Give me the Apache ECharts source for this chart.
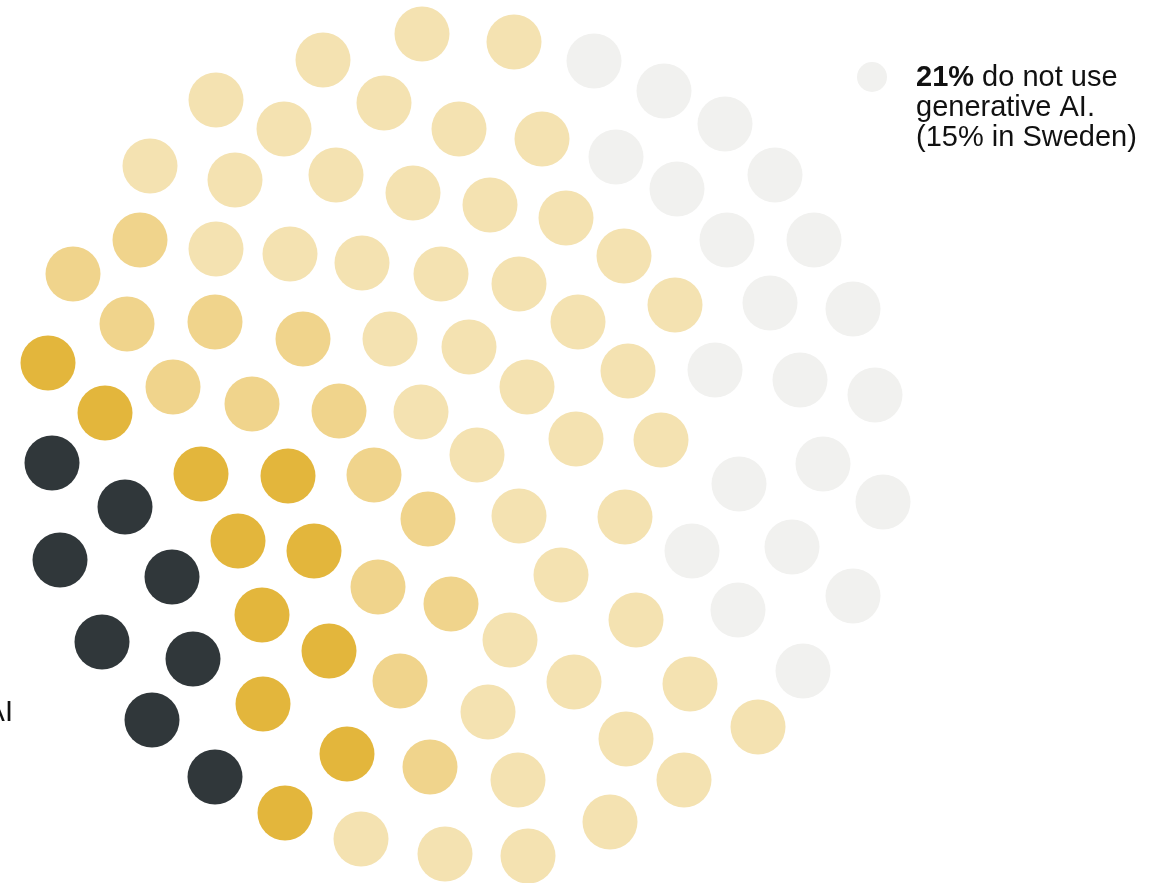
<!DOCTYPE html>
<html>
<head>
<meta charset="utf-8">
<title>Generative AI use</title>
<script src="https://cdn.jsdelivr.net/npm/echarts@6/dist/echarts.min.js"></script>
<style>
  html, body { margin: 0; padding: 0; background: #ffffff; }
  #chart { width: 1150px; height: 883px; }
</style>
</head>
<body>
<div id="chart"></div>
<script>
// Packed dot layout: one dot per percent of respondents.
// Positions are layout units around the cluster centre (x right, y up).
const groupNames = ['Daily', 'Weekly', 'Monthly', 'Less often', 'Do not use'];

const dotsDaily = [
  [-418, -13], [-345, -57], [-410, -110], [-298, -127], [-368, -192],
  [-277, -209], [-318, -270], [-255, -327]
];

const dotsWeekly = [
  [-422, 87], [-365, 37], [-269, -24], [-182, -26], [-232, -91], [-156, -101],
  [-208, -165], [-141, -201], [-207, -254], [-123, -304], [-185, -363]
];

const dotsMonthly = [
  [-330, 210], [-397, 176], [-343, 126], [-255, 128], [-167, 111], [-297, 63],
  [-218, 46], [-131, 39], [-96, -25], [-42, -69], [-92, -137], [-19, -154],
  [-70, -231], [-40, -317]
];

const dotsLessOften = [
  [-48, 416], [44, 408], [-147, 390], [-254, 350], [-86, 347], [-186, 321],
  [-11, 321], [72, 311], [-320, 284], [-134, 275], [-235, 270], [-57, 257],
  [20, 245], [96, 232], [-254, 201], [-180, 196], [-108, 187], [154, 194],
  [-29, 176], [49, 166], [205, 145], [-80, 111], [-1, 103], [108, 128],
  [158, 79], [-49, 38], [57, 63], [106, 11], [191, 10], [7, -5],
  [49, -66], [155, -67], [91, -125], [166, -170], [40, -190], [104, -232],
  [220, -234], [18, -262], [288, -277], [156, -289], [48, -330], [214, -330],
  [140, -372], [-109, -389], [-25, -404], [58, -406]
];

const dotsNonUsers = [
  [124, 389], [194, 359], [255, 326], [146, 293], [207, 261], [305, 275],
  [257, 210], [344, 210], [300, 147], [383, 141], [245, 80], [330, 70],
  [405, 55], [269, -34], [353, -14], [413, -52], [222, -101], [322, -97],
  [268, -160], [383, -146], [333, -221]
];

const groupDots = [dotsDaily, dotsWeekly, dotsMonthly, dotsLessOften, dotsNonUsers];
const groupColors = ['#30373a', '#e3b63c', '#f0d48c', '#f4e2b1', '#f1f1ef'];

const legendValue = '21%';
const legendLines = ['do not use', 'generative AI.', '(15% in Sweden)'];
const sideLabel = 'generative AI';

const chart = echarts.init(document.getElementById('chart'), null, { renderer: 'canvas' });

const series = groupDots.map((dots, i) => ({
  name: groupNames[i],
  type: 'scatter',
  data: dots,
  symbol: 'circle',
  symbolSize: 55,
  silent: true,
  itemStyle: { color: groupColors[i], opacity: 1 },
  emphasis: { disabled: true }
}));

const FAMILY = 'Liberation Sans';
const SIZE = 29;

chart.setOption({
  animation: false,
  backgroundColor: '#ffffff',
  grid: { left: 0, right: 0, top: 0, bottom: 0, containLabel: false },
  xAxis: { type: 'value', min: -470, max: 680, show: false },
  yAxis: { type: 'value', min: -433, max: 450, show: false },
  series: series,
  graphic: [
    {
      type: 'circle',
      shape: { cx: 872, cy: 77, r: 15 },
      style: { fill: groupColors[4] },
      silent: true
    },
    {
      type: 'text',
      x: 916,
      y: 63,
      silent: true,
      style: {
        text: '{b|' + legendValue + '}{n| ' + legendLines[0] + '}\n{n|' +
              legendLines[1] + '}\n{n|' + legendLines[2] + '}',
        fontFamily: FAMILY,
        fontSize: SIZE,
        fill: '#111111',
        lineHeight: 30,
        rich: {
          b: { fontWeight: 'bold', fontSize: SIZE, fontFamily: FAMILY, fill: '#111111', lineHeight: 30 },
          n: { fontWeight: 'normal', fontSize: SIZE, fontFamily: FAMILY, fill: '#111111', lineHeight: 30 }
        }
      }
    },
    {
      type: 'text',
      x: 13,
      y: 713,
      silent: true,
      style: {
        text: sideLabel,
        fontFamily: FAMILY,
        fontSize: SIZE,
        fill: '#111111',
        align: 'right',
        verticalAlign: 'middle'
      }
    }
  ]
});
</script>
</body>
</html>
